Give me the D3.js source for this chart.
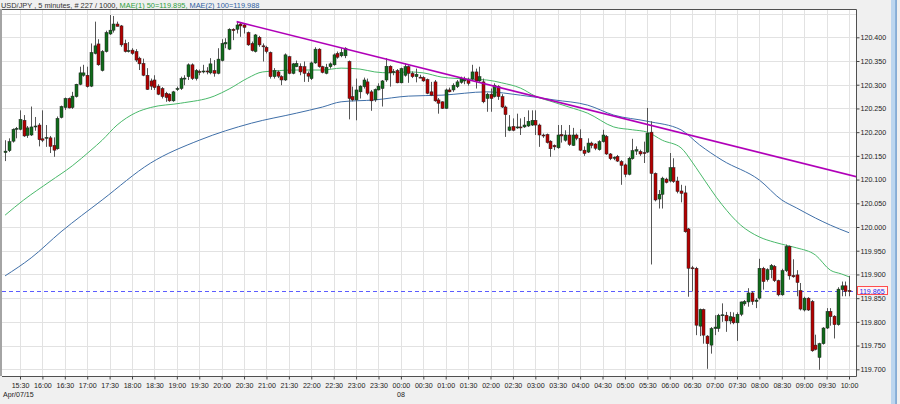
<!DOCTYPE html>
<html><head><meta charset="utf-8">
<script src="https://cdn.jsdelivr.net/npm/d3@7"></script>
<style>html,body{margin:0;padding:0;background:#f0f0f0;overflow:hidden}svg{display:block;font-family:"Liberation Sans",Arial,sans-serif}</style>
</head><body><svg id="chart" width="900" height="404"></svg>
<script>
// ---------- DATA ----------
const symbolTitle = "USD/JPY , 5 minutes, # 227 / 1000, ";
const ma50Title = "MAE(1) 50=119.895, ";
const ma100Title = "MAE(2) 100=119.988";
const startTime = new Date(2015, 3, 7, 15, 10); // first candle
const barMinutes = 5;

const open = [
120.157,120.161,120.181,120.207,120.206,120.225,120.193,120.194,120.212,120.215,
120.186,120.187,120.188,120.172,120.165,120.231,120.252,120.271,120.252,120.275,
120.301,120.320,120.320,120.297,120.366,120.386,120.330,120.370,120.407,120.415,
120.428,120.424,120.387,120.370,120.373,120.370,120.356,120.345,120.320,120.308,
120.310,120.297,120.292,120.282,120.280,120.266,120.290,120.292,120.313,120.317,
120.342,120.313,120.328,120.327,120.329,120.325,120.330,120.324,120.351,120.386,
120.375,120.417,120.417,120.428,120.426,120.410,120.387,120.370,120.400,120.382,
120.379,120.368,120.317,120.327,120.317,120.310,120.359,120.324,120.338,120.339,
120.338,120.324,120.313,120.346,120.375,120.338,120.324,120.338,120.342,120.366,
120.361,120.361,120.349,120.275,120.268,120.285,120.296,120.306,120.285,120.268,
120.289,120.292,120.310,120.339,120.326,120.330,120.304,120.320,120.338,120.324,
120.317,120.316,120.315,120.311,120.285,120.306,120.268,120.264,120.250,120.289,
120.289,120.296,120.305,120.308,120.310,120.312,120.327,120.308,120.306,120.271,
120.280,120.275,120.296,120.275,120.253,120.204,120.212,120.210,120.211,120.211,
120.213,120.215,120.225,120.215,120.194,120.195,120.181,120.172,120.167,120.195,
120.183,120.194,120.172,120.194,120.187,120.162,120.158,120.177,120.175,120.163,
120.180,120.191,120.154,120.145,120.149,120.138,120.131,120.111,120.144,120.160,
120.159,120.157,120.158,120.200,120.113,120.059,120.069,120.101,120.097,120.125,
120.097,120.076,120.072,119.996,119.914,119.913,119.791,119.826,119.770,119.751,
119.786,119.786,119.814,119.814,119.802,119.810,119.798,119.816,119.838,119.842,
119.861,119.843,119.850,119.913,119.889,119.910,119.917,119.887,119.857,119.908,
119.959,119.898,119.899,119.866,119.825,119.850,119.843,119.751,119.725,119.754,
119.787,119.822,119.812,119.794,119.868,119.876,119.866];

const high = [
120.183,120.187,120.208,120.211,120.246,120.236,120.213,120.254,120.232,120.219,
120.246,120.215,120.192,120.189,120.233,120.256,120.273,120.273,120.285,120.302,
120.338,120.342,120.338,120.387,120.433,120.396,120.373,120.414,120.447,120.445,
120.433,120.426,120.395,120.390,120.377,120.375,120.359,120.355,120.335,120.313,
120.320,120.301,120.295,120.285,120.282,120.287,120.296,120.317,120.320,120.345,
120.345,120.333,120.332,120.342,120.337,120.356,120.352,120.377,120.396,120.398,
120.419,120.419,120.433,120.431,120.429,120.412,120.391,120.407,120.403,120.387,
120.382,120.370,120.335,120.330,120.320,120.366,120.361,120.346,120.351,120.345,
120.349,120.328,120.349,120.379,120.377,120.340,120.344,120.347,120.366,120.370,
120.377,120.379,120.351,120.296,120.313,120.299,120.315,120.313,120.289,120.292,
120.303,120.310,120.356,120.341,120.333,120.333,120.336,120.345,120.341,120.328,
120.334,120.321,120.318,120.313,120.306,120.310,120.272,120.265,120.292,120.294,
120.303,120.310,120.317,120.317,120.315,120.342,120.334,120.338,120.313,120.283,
120.292,120.303,120.299,120.280,120.256,120.236,120.229,120.239,120.229,120.232,
120.246,120.246,120.246,120.218,120.197,120.197,120.183,120.174,120.215,120.215,
120.204,120.215,120.209,120.197,120.206,120.170,120.187,120.180,120.177,120.183,
120.205,120.194,120.156,120.149,120.152,120.141,120.134,120.148,120.186,120.170,
120.163,120.180,120.251,120.223,120.115,120.078,120.106,120.104,120.156,120.145,
120.106,120.089,120.087,119.998,119.918,119.916,119.828,119.828,119.772,119.789,
119.814,119.817,119.839,119.821,119.821,119.820,119.820,119.843,119.846,119.871,
119.865,119.850,119.933,119.916,119.913,119.922,119.920,119.889,119.912,119.963,
119.961,119.932,119.909,119.882,119.853,119.852,119.846,119.773,119.756,119.789,
119.829,119.829,119.814,119.873,119.885,119.885,119.897];

const low = [
120.139,120.158,120.178,120.187,120.204,120.190,120.188,120.192,120.203,120.170,
120.179,120.169,120.156,120.148,120.163,120.229,120.247,120.250,120.249,120.273,
120.299,120.317,120.294,120.295,120.364,120.340,120.328,120.368,120.405,120.410,
120.423,120.380,120.368,120.368,120.363,120.348,120.331,120.318,120.289,120.289,
120.289,120.278,120.271,120.264,120.264,120.264,120.287,120.289,120.299,120.310,
120.310,120.309,120.320,120.324,120.322,120.322,120.317,120.322,120.349,120.377,
120.373,120.394,120.408,120.401,120.408,120.382,120.370,120.368,120.380,120.349,
120.366,120.313,120.313,120.314,120.299,120.308,120.322,120.322,120.337,120.320,
120.306,120.306,120.310,120.344,120.336,120.324,120.322,120.334,120.340,120.355,
120.358,120.356,120.227,120.265,120.225,120.271,120.292,120.278,120.245,120.264,
120.288,120.254,120.306,120.296,120.320,120.303,120.303,120.317,120.304,120.314,
120.305,120.314,120.306,120.280,120.276,120.264,120.239,120.249,120.249,120.284,
120.285,120.293,120.302,120.301,120.298,120.310,120.292,120.306,120.261,120.243,
120.243,120.273,120.268,120.251,120.190,120.202,120.202,120.207,120.194,120.209,
120.211,120.213,120.194,120.169,120.188,120.176,120.148,120.162,120.165,120.178,
120.180,120.171,120.171,120.183,120.160,120.150,120.156,120.166,120.162,120.161,
120.178,120.152,120.141,120.141,120.137,120.089,120.105,120.109,120.142,120.152,
120.150,120.135,120.156,119.921,120.054,120.039,120.039,120.092,120.094,120.093,
120.071,120.052,119.988,119.853,119.864,119.772,119.770,119.754,119.701,119.733,
119.772,119.779,119.800,119.779,119.795,119.795,119.760,119.812,119.834,119.832,
119.836,119.829,119.847,119.868,119.885,119.892,119.884,119.854,119.855,119.905,
119.889,119.893,119.854,119.824,119.822,119.823,119.737,119.740,119.699,119.752,
119.785,119.792,119.765,119.792,119.854,119.854,119.854];

const close = [
120.160,120.180,120.206,120.208,120.227,120.192,120.209,120.211,120.213,120.184,
120.183,120.189,120.170,120.162,120.229,120.254,120.271,120.251,120.276,120.301,
120.325,120.325,120.296,120.368,120.382,120.342,120.370,120.410,120.415,120.428,
120.423,120.384,120.370,120.372,120.366,120.352,120.344,120.320,120.290,120.297,
120.294,120.280,120.275,120.273,120.266,120.285,120.292,120.313,120.314,120.342,
120.313,120.330,120.327,120.329,120.327,120.344,120.324,120.354,120.387,120.389,
120.417,120.414,120.426,120.424,120.421,120.384,120.372,120.405,120.384,120.381,
120.370,120.317,120.330,120.318,120.310,120.363,120.324,120.344,120.345,120.327,
120.324,120.318,120.346,120.375,120.338,120.326,120.337,120.344,120.363,120.358,
120.368,120.377,120.271,120.268,120.289,120.297,120.310,120.282,120.266,120.290,
120.297,120.308,120.339,120.325,120.328,120.304,120.334,120.338,120.324,120.317,
120.322,120.314,120.308,120.282,120.278,120.266,120.261,120.250,120.289,120.285,
120.299,120.306,120.313,120.312,120.303,120.327,120.308,120.317,120.264,120.280,
120.271,120.299,120.275,120.253,120.237,120.211,120.204,120.211,120.210,120.215,
120.223,120.225,120.215,120.194,120.192,120.178,120.165,120.169,120.194,120.192,
120.194,120.174,120.194,120.187,120.162,120.155,120.177,120.172,120.166,120.180,
120.194,120.154,120.144,120.147,120.139,120.130,120.111,120.145,120.161,120.163,
120.154,120.156,120.198,120.113,120.057,120.069,120.103,120.094,120.125,120.096,
120.075,120.071,119.990,119.913,119.913,119.793,119.826,119.772,119.754,119.786,
119.789,119.814,119.815,119.802,119.811,119.798,119.816,119.842,119.843,119.861,
119.843,119.846,119.913,119.885,119.910,119.919,119.887,119.857,119.908,119.959,
119.897,119.895,119.883,119.827,119.850,119.825,119.739,119.742,119.754,119.787,
119.822,119.811,119.794,119.869,119.876,119.864,119.865];

// moving averages (bar index -> value)
const ma50Idx = [0,5,12,18,23,26,30,35,39,47,56,60,65,69,78,85,90,95,99,103,108,112,117,124,129,133,138,142,147,151,156,163,168,172,176,181,184,186,192,197,202,206,210,212,217,221,224,226];
const ma50Val = [120.025,120.057,120.096,120.129,120.162,120.183,120.215,120.241,120.252,120.261,120.276,120.291,120.314,120.327,120.331,120.331,120.335,120.333,120.327,120.325,120.327,120.325,120.316,120.312,120.310,120.304,120.293,120.276,120.263,120.253,120.240,120.211,120.205,120.200,120.183,120.167,120.137,120.114,120.047,120.004,119.979,119.968,119.960,119.956,119.941,119.909,119.901,119.895];
const ma100Idx = [0,7,15,26,39,52,66,78,85,90,99,108,117,129,138,147,156,163,172,181,186,192,202,208,212,217,221,226];
const ma100Val = [119.897,119.935,119.990,120.057,120.135,120.183,120.219,120.240,120.253,120.264,120.268,120.276,120.278,120.285,120.278,120.268,120.257,120.236,120.223,120.205,120.173,120.141,120.099,120.057,120.040,120.019,120.004,119.988];

// trend line (bar index, price)
const trendIdx = [62, 228];
const trendVal = [120.433, 120.106];

const lastPrice = 119.865;
const yTickValues = [119.700,119.750,119.800,119.850,119.900,119.950,120.000,120.050,120.100,120.150,120.200,120.250,120.300,120.350,120.400];
const yGridExtra = [120.450];
const xTickLabels = ["15:30","16:00","16:30","17:00","17:30","18:00","18:30","19:00","19:30","20:00","20:30","21:00","21:30","22:00","22:30","23:00","23:30","00:00","00:30","01:00","01:30","02:00","02:30","03:00","03:30","04:00","04:30","05:00","05:30","06:00","06:30","07:00","07:30","08:00","08:30","09:00","09:30","10:00"];
const dateLabels = [{label:"Apr/07/15", at:null},{label:"08", at:"00:00"}];

// ---------- CHART ----------
const W = 900, H = 404;
const P = {l:2, t:9, r:856, b:376};
const FONT = '"Liberation Sans",Arial,sans-serif';
const AX_FS = 7.1;
const svg = d3.select("#chart");
const t = i => new Date(startTime.getTime() + i*barMinutes*60000);
const times = open.map((_, i) => t(i));

const tickTimes = xTickLabels.map(s => {
  const [hh, mm] = s.split(":").map(Number);
  return new Date(2015, 3, hh < 12 ? 8 : 7, hh, mm);
});

const x = d3.scaleTime().domain([times[4], times[226]]).range([20, 849]);
const y = d3.scaleLinear().domain([119.700, 120.400]).range([369.3, 37.3]);

svg.append("rect").attr("width", W).attr("height", H).attr("fill", "#f0f0f0");
svg.append("rect").attr("x", P.l).attr("y", P.t).attr("width", P.r - P.l).attr("height", P.b - P.t).attr("fill", "#fff");

svg.append("clipPath").attr("id", "clip").append("rect")
  .attr("x", P.l).attr("y", P.t).attr("width", P.r - P.l).attr("height", P.b - P.t);

const grid = svg.append("g").attr("clip-path", "url(#clip)");
grid.selectAll("line.h").data(yTickValues.concat(yGridExtra)).join("line")
  .attr("x1", P.l).attr("x2", P.r)
  .attr("y1", d => Math.round(y(d)) + 0.5).attr("y2", d => Math.round(y(d)) + 0.5)
  .attr("stroke", "#e2e2e2").attr("stroke-width", 1);
grid.selectAll("line.v").data(tickTimes).join("line")
  .attr("y1", P.t).attr("y2", P.b)
  .attr("x1", d => Math.round(x(d)) + 0.5).attr("x2", d => Math.round(x(d)) + 0.5)
  .attr("stroke", "#e2e2e2").attr("stroke-width", 1);

const plot = svg.append("g").attr("clip-path", "url(#clip)");

// MAs
const xi = i => x(t(i));
const lineGen = d3.line().x(d => xi(d[0])).y(d => y(d[1])).curve(d3.curveMonotoneX);
plot.append("path").datum(ma100Idx.map((i, k) => [i, ma100Val[k]]))
  .attr("d", lineGen).attr("fill", "none").attr("stroke", "#3f6fa8").attr("stroke-width", 1);
plot.append("path").datum(ma50Idx.map((i, k) => [i, ma50Val[k]]))
  .attr("d", lineGen).attr("fill", "none").attr("stroke", "#49b96a").attr("stroke-width", 1);

// last price dashed line
plot.append("line").attr("x1", P.l).attr("x2", P.r)
  .attr("y1", Math.round(y(lastPrice)) + 0.5).attr("y2", Math.round(y(lastPrice)) + 0.5)
  .attr("stroke", "#5c5cff").attr("stroke-width", 1).attr("stroke-dasharray", "4,3");

// candles
const bars = open.map((o, i) => ({i, o, h: high[i], l: low[i], c: close[i]}));
const cx = d => Math.round(x(times[d.i]));
plot.selectAll("line.wick").data(bars).join("line")
  .attr("x1", d => cx(d) + 0.5).attr("x2", d => cx(d) + 0.5)
  .attr("y1", d => y(d.h)).attr("y2", d => y(d.l))
  .attr("stroke", "#555").attr("stroke-width", 1);
plot.selectAll("rect.body").data(bars).join("rect")
  .attr("x", d => cx(d) - 1)
  .attr("width", 3)
  .attr("y", d => y(Math.max(d.o, d.c)))
  .attr("height", d => Math.max(1, Math.abs(y(d.o) - y(d.c))))
  .attr("fill", d => d.c >= d.o ? "#0f6b1a" : "#b40000")
  .attr("stroke", "#202020").attr("stroke-width", 0.5);

// trend line
plot.append("line")
  .attr("x1", xi(trendIdx[0])).attr("y1", y(trendVal[0]))
  .attr("x2", xi(trendIdx[1])).attr("y2", y(trendVal[1]))
  .attr("stroke", "#b000b8").attr("stroke-width", 1.6);

// left strip & border
svg.append("rect").attr("x", 0).attr("y", P.t).attr("width", 2).attr("height", P.b - P.t).attr("fill", "#a4a4a4");
svg.append("path").attr("d", `M${P.l},${P.t + 0.5}H${P.r + 0.5}V${P.b + 0.5}H${P.l}`)
  .attr("fill", "none").attr("stroke", "#505050").attr("stroke-width", 1);

// axes
const yAxis = d3.axisRight(y).tickValues(yTickValues).tickFormat(d3.format(".3f")).tickSize(3).tickPadding(1);
const gy = svg.append("g").attr("transform", `translate(${P.r + 0.5},0)`).call(yAxis);
gy.select(".domain").remove();
gy.selectAll("text").attr("font-size", AX_FS).attr("fill", "#222").attr("font-family", FONT);
gy.selectAll("line").attr("stroke", "#444");

const xAxis = d3.axisBottom(x).tickValues(tickTimes).tickFormat((d, k) => xTickLabels[k]).tickSize(3).tickPadding(3);
const gx = svg.append("g").attr("transform", `translate(0,${P.b + 0.5})`).call(xAxis);
gx.select(".domain").remove();
gx.selectAll("text").attr("font-size", AX_FS).attr("fill", "#222").attr("font-family", FONT);
gx.selectAll("line").attr("stroke", "#444");

// date labels
svg.append("text").attr("x", 3).attr("y", 397).attr("font-size", AX_FS).attr("font-family", FONT).attr("fill", "#222").text(dateLabels[0].label);
svg.append("text").attr("x", x(tickTimes[xTickLabels.indexOf(dateLabels[1].at)])).attr("y", 397)
  .attr("text-anchor", "middle").attr("font-size", AX_FS).attr("font-family", FONT).attr("fill", "#222").text(dateLabels[1].label);

// last price box
const ly = Math.round(y(lastPrice));
svg.append("rect").attr("x", 857.5).attr("y", ly - 4.5).attr("width", 30).attr("height", 8)
  .attr("fill", "#fff2f2").attr("stroke", "#ff4d4d").attr("stroke-width", 1);
svg.append("text").attr("x", 859.5).attr("y", ly + 2.6).attr("font-size", AX_FS).attr("font-family", FONT).attr("fill", "#2a2af0").text(d3.format(".3f")(lastPrice));

// header
const hdr = svg.append("text").attr("x", 1).attr("y", 7.5).attr("font-size", 7.4).attr("font-family", FONT);
hdr.append("tspan").attr("fill", "#333").text(symbolTitle);
hdr.append("tspan").attr("fill", "#2e9e3e").text(ma50Title);
hdr.append("tspan").attr("fill", "#2f5f9f").text(ma100Title);

// right scroll strip
svg.append("rect").attr("x", 891).attr("y", 0).attr("width", 5).attr("height", H).attr("fill", "#bcd6ef");
svg.append("rect").attr("x", 895.5).attr("y", 0).attr("width", 1.2).attr("height", H).attr("fill", "#5b8fc8");
</script></body></html>
